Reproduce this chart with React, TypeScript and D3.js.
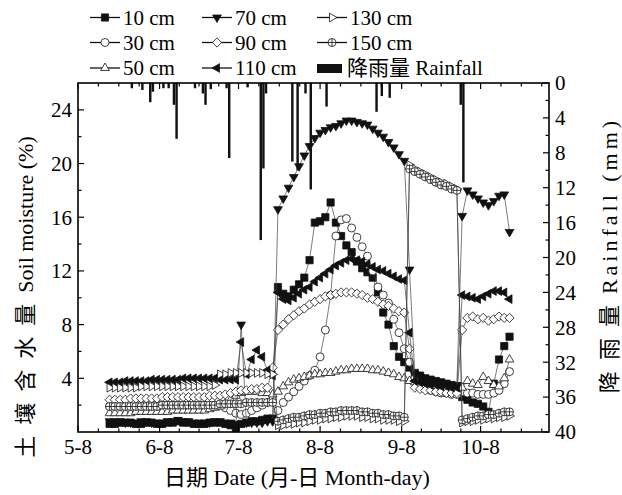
import React from "react";
import * as d3 from "d3";

// sampling dates (every 2 days) for the soil-moisture series
const dates = [
  "05-20", "05-22", "05-24", "05-26", "05-28", "05-30",
  "06-01", "06-03", "06-05", "06-07", "06-09", "06-11", "06-13", "06-15", "06-17", "06-19", "06-21", "06-23", "06-25", "06-27", "06-29",
  "07-01", "07-03", "07-05", "07-07", "07-09", "07-11", "07-13", "07-15", "07-17", "07-19", "07-21", "07-23", "07-25", "07-27", "07-29", "07-31",
  "08-02", "08-04", "08-06", "08-08", "08-10", "08-12", "08-14", "08-16", "08-18", "08-20", "08-22", "08-24", "08-26", "08-28", "08-30",
  "09-01", "09-03", "09-05", "09-07", "09-09", "09-11", "09-13", "09-15", "09-17", "09-19", "09-21", "09-23", "09-25", "09-27", "09-29",
  "10-01", "10-03", "10-05", "10-07", "10-09", "10-11", "10-13", "10-15", "10-17", "10-19",
];

const s10 = [
  0.6, 0.6, 0.7, 0.7, 0.7, 0.6, 0.6, 0.7, 0.7, 0.6,
  0.6, 0.7, 0.7, 0.8, 0.7, 0.7, 0.6, 0.6, 0.6, 0.7,
  0.7, 0.7, 0.6, 0.5, 0.3, 0.6, 0.7, 0.8, 0.8, 0.9,
  1.0, 1.0, 10.8, 10.3, 10.1, 10.6, 11.0, 11.5, 12.8, 15.6,
  15.7, 16.0, 17.1, 15.6, 14.6, 13.9, 13.4, 12.7, 12.2, 11.9,
  11.5, 10.4, 8.9, 8.0, 6.4, 5.6, 5.2, 4.8, 4.4, 4.2,
  4.0, 3.9, 3.8, 3.7, 3.6, 3.5, 3.4, 2.6, 2.4, 2.2,
  2.1, 1.9, 1.5, 3.6, 5.4, 6.4, 7.1,
];
const s30 = [
  1.9, 1.9, 1.9, 1.9, 1.9, 1.9, 2.0, 2.0, 2.0, 2.0,
  2.0, 2.0, 2.0, 2.0, 2.0, 2.0, 2.0, 2.0, 2.0, 2.0,
  2.0, 2.0, 1.8, 1.6, 1.4, 1.3, 1.4, 1.6, 1.8, 2.0,
  2.2, 2.4, 1.6, 2.2, 2.6, 3.0, 3.4, 3.8, 4.2, 4.6,
  5.6, 7.6, 10.2, 14.6, 15.8, 15.9, 15.2, 14.5, 13.8, 13.1,
  12.0, 10.8, 10.2, 9.6, 8.4, 7.4, 6.2, 5.2, 4.0, 3.4,
  3.2, 3.1, 3.0, 2.9, 2.9, 2.8, 2.8, 3.0, 2.9, 2.9,
  2.8, 2.8, 2.8, 2.9, 3.1, 3.6, 4.5,
];
const s50 = [
  1.4, 1.4, 1.4, 1.4, 1.4, 1.5, 1.5, 1.5, 1.5, 1.5,
  1.5, 1.5, 1.6, 1.6, 1.6, 1.6, 1.6, 1.6, 1.6, 1.7,
  1.8, 1.9, 2.1, 2.4, 2.7, 2.9, 3.0, 3.0, 3.0, 2.9,
  2.9, 2.8, 3.0, 3.4, 3.7, 3.9, 4.0, 4.1, 4.2, 4.3,
  4.3, 4.4, 4.4, 4.5, 4.6, 4.6, 4.7, 4.7, 4.7, 4.7,
  4.6, 4.6, 4.5, 4.4, 4.3, 4.1, 4.0, 3.8, 3.7, 3.6,
  3.5, 3.4, 3.4, 3.3, 3.3, 3.2, 3.2, 3.3, 3.8, 3.6,
  3.5, 4.1, 3.8, 3.5, 3.4, 4.0, 5.4,
];
const s70 = [
  0.8, 0.8, 0.8, 0.7, 0.7, 0.7, 0.8, 0.8, 0.7, 0.7,
  0.7, 0.8, 0.8, 0.9, 0.8, 0.8, 0.7, 0.7, 0.7, 0.7,
  0.8, 0.8, 0.7, 0.7, 0.6, 8.0, 0.7, 0.7, 0.7, 0.7,
  0.8, 0.8, 16.6, 17.4, 18.2, 19.0, 19.8, 20.6, 21.3, 21.9,
  22.3, 22.5, 22.7, 22.8, 23.0, 23.2, 23.2, 23.1, 23.0, 22.9,
  22.6, 22.3, 22.0, 21.6, 21.2, 20.7, 20.2, 12.1, 4.3, 4.1,
  3.9, 3.8, 3.7, 3.6, 3.6, 3.5, 3.5, 16.1, 18.0, 17.7,
  17.4, 17.1, 16.9, 17.2, 17.6, 17.7, 14.9,
];
const s90 = [
  2.4, 2.4, 2.4, 2.4, 2.5, 2.5, 2.5, 2.5, 2.5, 2.5,
  2.6, 2.6, 2.6, 2.6, 2.6, 2.6, 2.6, 2.6, 2.6, 2.7,
  2.7, 2.7, 2.8, 2.9, 3.0, 3.1, 3.1, 3.2, 3.2, 3.3,
  3.3, 4.8, 7.6, 8.0, 8.4, 8.7, 9.0, 9.2, 9.5, 9.7,
  9.9, 10.1, 10.2, 10.3, 10.4, 10.4, 10.4, 10.3, 10.2, 10.0,
  9.9, 9.7, 9.5, 9.4, 9.2, 9.0, 8.9, 6.2, 3.3, 3.2,
  3.1, 3.1, 3.0, 3.0, 2.9, 2.9, 2.9, 7.6, 8.5, 8.6,
  8.4, 8.5, 8.3, 8.4, 8.6, 8.5, 8.5,
];
const s110 = [
  3.7, 3.7, 3.7, 3.8, 3.8, 3.8, 3.8, 3.8, 3.9, 3.9,
  3.9, 3.9, 3.9, 3.9, 4.0, 4.0, 4.0, 4.0, 4.0, 4.0,
  4.0, 3.9, 3.9, 3.9, 3.9, 6.7, 4.3, 5.4, 6.1, 5.6,
  4.6, 4.2, 10.4, 9.9, 9.8, 10.0, 10.3, 10.6, 10.8, 11.2,
  11.5, 11.8, 12.1, 12.4, 12.6, 12.8, 12.9, 12.8, 12.7, 12.5,
  12.3, 12.1, 12.0, 11.8, 11.6, 11.4, 11.3, 7.4, 3.8, 3.7,
  3.6, 3.5, 3.5, 3.4, 3.4, 3.3, 3.3, 10.2, 10.1, 10.0,
  9.9, 10.1, 10.3, 10.5, 10.5, 10.4, 9.9,
];
const s130 = [
  3.3, 3.3, 3.3, 3.3, 3.3, 3.3, 3.4, 3.4, 3.4, 3.4,
  3.4, 3.4, 3.4, 3.4, 3.4, 3.4, 3.4, 3.4, 3.4, 3.4,
  3.5, 4.3, 4.3, 4.4, 4.4, 4.4, 4.4, 4.4, 4.4, 4.4,
  4.3, 4.3, 0.5, 0.5, 0.6, 0.6, 0.7, 0.7, 0.8, 0.9,
  0.9, 1.0, 1.0, 1.1, 1.1, 1.2, 1.2, 1.2, 1.1, 1.1,
  1.0, 1.0, 0.9, 0.9, 0.9, 0.8, 0.8, 19.9, 19.6, 19.4,
  19.2, 19.0, 18.8, 18.6, 18.5, 18.3, 18.1, 0.7, 0.8, 0.8,
  0.9, 0.9, 1.0, 1.0, 1.1, 1.1, 1.2,
];
const s150 = [
  1.9, 1.9, 1.9, 1.9, 1.9, 1.9, 1.9, 1.9, 1.9, 1.9,
  2.0, 2.0, 2.0, 2.0, 2.0, 2.0, 2.0, 2.0, 2.0, 2.0,
  2.0, 2.1, 2.1, 2.1, 2.1, 2.1, 2.2, 2.2, 2.2, 2.2,
  2.2, 2.2, 0.8, 0.9, 1.0, 1.1, 1.1, 1.2, 1.3, 1.3,
  1.4, 1.4, 1.5, 1.5, 1.6, 1.6, 1.6, 1.6, 1.5, 1.5,
  1.4, 1.4, 1.3, 1.3, 1.2, 1.2, 1.1, 19.6, 19.4, 19.2,
  19.0, 18.8, 18.6, 18.4, 18.3, 18.1, 18.0, 0.9, 1.0, 1.1,
  1.2, 1.2, 1.3, 1.3, 1.4, 1.5, 1.5,
];

// daily rainfall (mm), hanging from the top axis
const rainDates = [
  "05-28", "06-01", "06-04", "06-05", "06-09", "06-11", "06-13", "06-14", "06-21", "06-24",
  "06-25", "06-27", "07-03", "07-04", "07-11", "07-16", "07-17", "07-18", "07-28", "07-30",
  "08-02", "08-04", "08-10", "08-29", "08-31", "09-03", "09-30", "10-01",
];
const rainMM = [
  0.6, 0.8, 2.2, 1.0, 0.6, 0.6, 2.5, 6.4, 0.6, 1.2,
  2.5, 0.7, 0.6, 8.6, 0.5, 18.0, 9.8, 1.2, 9.0, 10.0,
  1.2, 12.2, 2.7, 3.3, 1.5, 1.7, 2.5, 11.4,
];

const monthTicks = ["05-08", "06-08", "07-08", "08-08", "09-08", "10-08", "11-08"];
const monthLabels = ["5-8", "6-8", "7-8", "8-8", "9-8", "10-8"];
const leftTicks = [4, 8, 12, 16, 20, 24];
const rightTicks = [0, 4, 8, 12, 16, 20, 24, 28, 32, 36, 40];

const W = 622;
const H = 495;
const L = 78, R = 549, T = 83, B = 432;
const FONT = '"Liberation Serif", "DejaVu Serif", "Noto Sans CJK SC", serif';

const parse = d3.timeParse("%m-%d");

type Kind = "square" | "circle" | "triUp" | "triDown" | "diamond" | "triLeft" | "triRight" | "circlePlus";

function markerPath(kind: Kind): string {
  const t = 5;
  switch (kind) {
    case "square":
      return "M-3.6,-3.6h7.2v7.2h-7.2Z";
    case "circle":
      return "M4,0A4,4 0 1,1 -4,0A4,4 0 1,1 4,0Z";
    case "triUp":
      return `M0,${-t}L${t * 0.87},${t * 0.5}L${-t * 0.87},${t * 0.5}Z`;
    case "triDown":
      return `M0,${t}L${t * 0.87},${-t * 0.5}L${-t * 0.87},${-t * 0.5}Z`;
    case "triLeft":
      return `M${-t},0L${t * 0.5},${-t * 0.87}L${t * 0.5},${t * 0.87}Z`;
    case "triRight":
      return `M${t},0L${-t * 0.5},${-t * 0.87}L${-t * 0.5},${t * 0.87}Z`;
    case "diamond":
      return "M0,-4.6L4.6,0L0,4.6L-4.6,0Z";
    case "circlePlus":
      return "M4,0A4,4 0 1,1 -4,0A4,4 0 1,1 4,0ZM-4,0H4M0,-4V4";
  }
}

const series: { name: string; values: number[]; kind: Kind; filled: boolean }[] = [
  { name: "10 cm", values: s10, kind: "square", filled: true },
  { name: "30 cm", values: s30, kind: "circle", filled: false },
  { name: "50 cm", values: s50, kind: "triUp", filled: false },
  { name: "70 cm", values: s70, kind: "triDown", filled: true },
  { name: "90 cm", values: s90, kind: "diamond", filled: false },
  { name: "110 cm", values: s110, kind: "triLeft", filled: true },
  { name: "130 cm", values: s130, kind: "triRight", filled: false },
  { name: "150 cm", values: s150, kind: "circlePlus", filled: false },
];

export default function App() {
  const x = d3.scaleTime().domain([parse("05-08")!, parse("11-03")!]).range([L, R]);
  const yL = d3.scaleLinear().domain([0, 26]).range([B, T]);
  const yR = d3.scaleLinear().domain([0, 40]).range([T, B]);

  const xDates = dates.map((d) => parse(d)!);
  const line = d3
    .line<number>()
    .x((_, i) => x(xDates[i]))
    .y((v) => yL(v));

  // minor ticks: quarters between the monthly labels
  const majorX = monthTicks.map((d) => x(parse(d)!));
  const minorX: number[] = [];
  for (let i = 0; i < majorX.length - 1; i++) {
    for (let k = 1; k < 4; k++) {
      const p = majorX[i] + ((majorX[i + 1] - majorX[i]) * k) / 4;
      if (p < R - 1) minorX.push(p);
    }
  }
  const leftMinor = d3.range(2, 26, 4);
  const rightMinor = d3.range(2, 40, 4);
  const dayW = x(parse("05-09")!) - x(parse("05-08")!);

  const legendCols = [105, 217, 332];
  const legendRows = [17.5, 42.5, 68];

  return (
    <svg
      width={W}
      height={H}
      style={{ position: "absolute", left: 0, top: 0, background: "#fff", fontFamily: FONT }}
    >
      <rect x={0} y={0} width={W} height={H} fill="#fff" />

      {/* soil moisture series */}
      {series.map((s) => (
        <g key={s.name}>
          <path d={line(s.values) || ""} fill="none" stroke="#444" strokeWidth={0.7} />
          {s.values.map((v, i) => (
            <path
              key={i}
              d={markerPath(s.kind)}
              transform={`translate(${x(xDates[i])},${yL(v)})`}
              fill={s.filled ? "#111" : "#fff"}
              stroke="#111"
              strokeWidth={0.8}
            />
          ))}
        </g>
      ))}

      {/* rainfall bars */}
      {rainDates.map((d, i) => {
        const x0 = x(parse(d)!);
        return (
          <rect
            key={d}
            x={x0}
            y={T}
            width={dayW - 0.2}
            height={yR(rainMM[i]) - T}
            fill="#111"
          />
        );
      })}

      {/* frame */}
      <rect x={L} y={T} width={R - L} height={B - T} fill="none" stroke="#000" strokeWidth={1.6} />

      {/* bottom + top ticks */}
      {majorX.filter((p) => p <= R).map((p, i) => (
        <g key={"mx" + i}>
          <line x1={p} x2={p} y1={B} y2={B - 6} stroke="#000" strokeWidth={1.2} />
          <line x1={p} x2={p} y1={T} y2={T + 6} stroke="#000" strokeWidth={1.2} />
        </g>
      ))}
      {minorX.map((p, i) => (
        <g key={"nx" + i}>
          <line x1={p} x2={p} y1={B} y2={B - 3.5} stroke="#000" strokeWidth={1.2} />
          <line x1={p} x2={p} y1={T} y2={T + 3.5} stroke="#000" strokeWidth={1.2} />
        </g>
      ))}
      {monthLabels.map((lab, i) => (
        <text key={lab} x={majorX[i]} y={454} fontSize={21} textAnchor="middle">
          {lab}
        </text>
      ))}

      {/* left axis */}
      {leftTicks.map((v) => (
        <g key={"l" + v}>
          <line x1={L} x2={L + 6} y1={yL(v)} y2={yL(v)} stroke="#000" strokeWidth={1.2} />
          <text x={72} y={yL(v)} dy="0.35em" fontSize={21} textAnchor="end">
            {v}
          </text>
        </g>
      ))}
      {leftMinor.map((v) => (
        <line key={"lm" + v} x1={L} x2={L + 3.5} y1={yL(v)} y2={yL(v)} stroke="#000" strokeWidth={1.2} />
      ))}

      {/* right axis */}
      {rightTicks.map((v) => (
        <g key={"r" + v}>
          <line x1={R} x2={R - 6} y1={yR(v)} y2={yR(v)} stroke="#000" strokeWidth={1.2} />
          <text x={555} y={yR(v)} dy="0.35em" fontSize={21}>
            {v}
          </text>
        </g>
      ))}
      {rightMinor.map((v) => (
        <line key={"rm" + v} x1={R} x2={R - 3.5} y1={yR(v)} y2={yR(v)} stroke="#000" strokeWidth={1.2} />
      ))}

      {/* axis titles */}
      <text x={297} y={485} fontSize={22} textAnchor="middle">
        日期 Date (月-日 Month-day)
      </text>
      <text transform="translate(33,297) rotate(-90)" fontSize={22} textAnchor="middle">
        <tspan style={{ letterSpacing: "11px" }}>土壤含水量</tspan>
        <tspan>Soil moisture (%)</tspan>
      </text>
      <text transform="translate(617,255) rotate(-90)" fontSize={22} textAnchor="middle">
        <tspan style={{ letterSpacing: "11px" }}>降雨量</tspan>
        <tspan style={{ letterSpacing: "4px" }}>Rainfall (mm)</tspan>
      </text>

      {/* legend */}
      {series.map((s, i) => {
        const cx = legendCols[Math.floor(i / 3)];
        const cy = legendRows[i % 3];
        return (
          <g key={"lg" + s.name}>
            <line x1={cx - 15} x2={cx + 15} y1={cy} y2={cy} stroke="#111" strokeWidth={1.3} />
            <path
              d={markerPath(s.kind)}
              transform={`translate(${cx},${cy})`}
              fill={s.filled ? "#111" : "#fff"}
              stroke="#111"
              strokeWidth={0.8}
            />
            <text x={cx + 18} y={cy} dy="0.35em" fontSize={21}>
              {s.name}
            </text>
          </g>
        );
      })}
      <rect x={317} y={64} width={25} height={9} fill="#111" />
      <text x={347} y={68} dy="0.35em" fontSize={21}>
        降雨量 Rainfall
      </text>
    </svg>
  );
}
